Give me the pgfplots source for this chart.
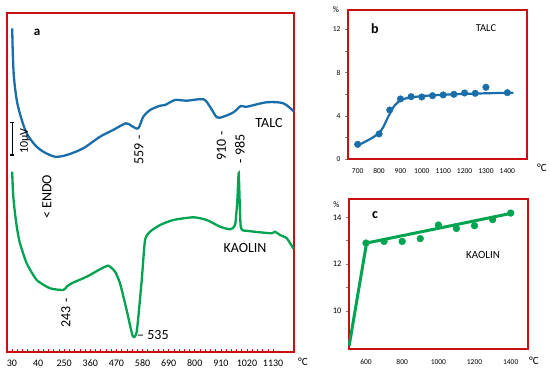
\documentclass[border=0pt]{standalone}
\usepackage{pgfplots}
\pgfplotsset{compat=1.18}
\usepackage{fontspec}
\setmainfont{Carlito}
\definecolor{frame}{RGB}{200,16,16}
\definecolor{talc}{RGB}{25,110,170}
\definecolor{kao}{RGB}{0,163,80}
\begin{document}
\begin{tikzpicture}
\path[use as bounding box] (0pt,0pt) rectangle (550pt,374pt);
% ---------------- panel a ----------------
\begin{axis}[at={(7pt,22pt)}, anchor=south west, scale only axis,
  width=287pt, height=339pt,
  xmin=9, xmax=1218, ymin=22, ymax=361,
  axis line style={frame, line width=2pt},
  ytick=\empty,
  xtick={30,140,250,360,470,580,690,800,910,1020,1130},
  xticklabels={30,40,250,360,470,580,690,800,910,1020,1130},
  minor x tick num=4, tick align=inside, xtick pos=bottom,
  major tick length=3pt, minor tick length=3pt,
  every tick/.style={frame, line width=0.7pt},
  xticklabel style={font=\fontsize{10}{12}\selectfont, yshift=-4pt},
  clip=false]
\addplot[talc, line width=2.3pt, smooth, tension=0.5] coordinates {
(31,345.7)(33,324)(38,297.3)(50,274)(67,257.3)(92,240.7)(127,229)(162,222.3)
(211,217.3)(261,219)(330,225.7)(401,237.3)(456,244)(510,250.7)(534,248)
(562,245.7)(583,257.3)(612,264)(654,268.3)(675,269)(717,274)(766,273.3)
(836,274.7)(864,267.3)(893,256.7)(920,257.3)(963,261.7)(994,268)(1019,267.3)
(1103,271.7)(1173,270.7)(1218,262.3)};
\addplot[kao, line width=2.3pt, smooth, tension=0.35] coordinates {
(31,202.3)(32,194)(35.5,177.3)(42.6,160.7)(52.3,144)(63.7,130.7)(92,110.7)
(134,94)(190,85.7)(246,84)(260.5,87.3)(281.6,90.7)(344.8,97.3)(400.8,104.7)
(435.8,108.3)(464,102.3)(485,90.7)(513,64)(538.6,38)(555.5,42.3)(576.6,94)
(590.5,134)(611.6,142.3)(653.8,149)(709.7,154)(794,156.7)(850.5,154)
(906.6,147.3)(948.7,144.7)(969.8,149)(979.4,174)(985.3,200.7)(993.7,147.3)
(1019,143.3)(1075,141.7)(1124,140.7)(1138,142.3)(1159,139)(1187.6,135.7)
(1215,125.7)};
\end{axis}
% ---------------- panel b ----------------
\begin{axis}[at={(348pt,214.7pt)}, anchor=south west, scale only axis,
  width=179pt, height=149.3pt,
  xmin=654.7, xmax=1492, ymin=0, ymax=13.78,
  axis line style={frame, line width=1.8pt},
  xtick={700,800,...,1400}, ytick={0,4,8,12}, minor y tick num=1,
  xtick style={draw=none}, ytick pos=left, tick align=outside,
  ytick style={gray, line width=0.5pt},
  major tick length=3pt, minor tick length=3pt,
  /pgf/number format/assume math mode=true,
  /pgf/number format/1000 sep={},
  xticklabel style={font=\fontsize{7.5}{9}\selectfont, yshift=-3pt},
  yticklabel style={font=\fontsize{7.5}{9}\selectfont, xshift=-1pt},
  clip=false]
\addplot[talc, line width=2.2pt, smooth, tension=0.6] coordinates {
(703,1.3)(772,2.03)(811,2.7)(843,3.93)(874,5.0)(913,5.54)(976,5.78)(1085,5.94)
(1241,6.06)(1428,6.15)};
\addplot[only marks, mark=*, mark size=3.3pt, talc] coordinates {
(700,1.38)(800,2.34)(850,4.55)(900,5.57)(950,5.78)(1000,5.75)(1050,5.87)
(1100,5.94)(1150,6.0)(1200,6.12)(1250,6.09)(1300,6.65)(1400,6.15)};
\end{axis}
% ---------------- panel c ----------------
\begin{axis}[at={(349pt,24.7pt)}, anchor=south west, scale only axis,
  width=179pt, height=150.3pt,
  xmin=506, xmax=1495.6, ymin=8.365, ymax=14.78,
  axis line style={frame, line width=1.8pt},
  xtick={600,800,...,1400}, ytick={10,12,14}, minor y tick num=1,
  xtick style={draw=none}, ytick pos=left, tick align=outside,
  ytick style={gray, line width=0.5pt},
  major tick length=3pt, minor tick length=3pt,
  /pgf/number format/assume math mode=true,
  /pgf/number format/1000 sep={},
  xticklabel style={font=\fontsize{7.5}{9}\selectfont, yshift=-3.5pt},
  yticklabel style={font=\fontsize{8.5}{10}\selectfont, xshift=-1pt},
  clip=false]
\addplot[kao, line width=3pt, sharp plot] coordinates {
(507,8.52)(603,12.9)(1404,14.17)};
\addplot[only marks, mark=*, mark size=3.4pt, kao] coordinates {
(600,12.9)(700,12.97)(800,12.97)(900,13.09)(1000,13.67)(1100,13.52)
(1200,13.64)(1300,13.9)(1400,14.18)};
\end{axis}
% ---------------- annotations ----------------
\node[font=\fontsize{13}{15}\selectfont\bfseries] at (37pt,342pt) {a};
\draw[black, line width=1.1pt] (12.3pt,251.3pt) -- (12.3pt,219pt);
\draw[black, line width=1.1pt] (10.3pt,251.3pt) -- (14.3pt,251.3pt);
\draw[black, line width=1.1pt] (10.3pt,219pt) -- (14.3pt,219pt);
\node[rotate=90, font=\fontsize{12}{14}\selectfont] at (25pt,233pt) {10µV};
\node[rotate=90, font=\fontsize{14}{16}\selectfont] at (47pt,177pt) {< ENDO};
\node[rotate=90, font=\fontsize{14}{16}\selectfont] at (139pt,224pt) {559 -};
\node[rotate=90, font=\fontsize{14}{16}\selectfont] at (221.5pt,228pt) {910 -};
\node[rotate=90, font=\fontsize{14}{16}\selectfont] at (240pt,225pt) {- 985};
\node[rotate=90, font=\fontsize{14}{16}\selectfont] at (66pt,61pt) {243 -};
\node[anchor=west, font=\fontsize{14}{16}\selectfont, inner sep=0pt] at (137pt,39pt) {– 535};
\node[font=\fontsize{14}{16}\selectfont] at (269pt,251pt) {TALC};
\node[font=\fontsize{14}{16}\selectfont] at (245pt,126pt) {KAOLIN};
\node[font=\fontsize{11}{13}\selectfont] at (303pt,12pt) {°C};
% b
\node[font=\fontsize{14}{16}\selectfont\bfseries] at (375pt,345pt) {b};
\node[font=\fontsize{10.5}{12}\selectfont] at (486pt,346pt) {TALC};
\node[font=\fontsize{8.5}{10}\selectfont] at (336pt,364pt) {\%};
\node[font=\fontsize{11}{13}\selectfont] at (542pt,206pt) {°C};
% c
\node[font=\fontsize{14}{16}\selectfont\bfseries] at (375pt,159pt) {c};
\node[font=\fontsize{11}{13}\selectfont] at (483pt,119pt) {KAOLIN};
\node[font=\fontsize{8.5}{10}\selectfont] at (336.5pt,169pt) {\%};
\node[font=\fontsize{11}{13}\selectfont] at (534pt,13pt) {°C};
\end{tikzpicture}
\end{document}
